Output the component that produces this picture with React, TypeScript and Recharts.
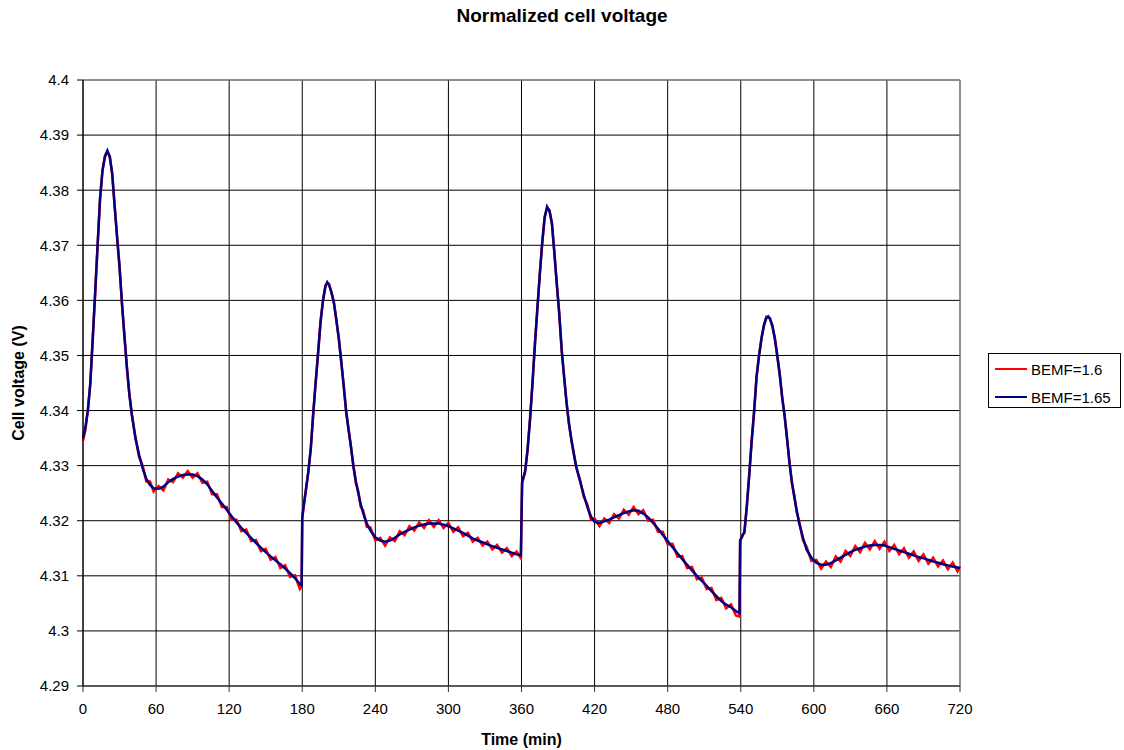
import React from "react";
import {
  LineChart,
  Line,
  XAxis,
  YAxis,
  CartesianGrid,
  ReferenceLine,
} from "recharts";

// time in minutes
const times = [
  0, 2, 4, 6, 8, 10, 12, 14, 16, 18, 20, 22, 24, 26, 28, 30, 32, 34, 36, 38,
  40, 43, 46, 49, 52, 55, 58, 62, 66, 70, 74, 78, 82, 86, 90, 94, 98, 102, 106,
  110, 114, 118, 122, 126, 130, 134, 138, 142, 146, 150, 154, 158, 162, 166,
  170, 174, 178, 179.5,
  180, 181, 183, 185, 187, 189, 191, 193, 195, 197, 199, 200.5, 202, 204, 206,
  208, 210, 212, 214, 216, 218, 220, 222, 224, 226, 228, 230, 233, 236, 240,
  244, 248, 252, 256, 260, 264, 268, 272, 276, 280, 284, 288, 292, 296, 300,
  304, 308, 312, 316, 320, 324, 328, 332, 336, 340, 344, 348, 352, 356, 359.5,
  360, 360.5, 363, 365, 367, 369, 371, 373, 375, 377, 379, 381, 383, 385, 387,
  389, 391, 393, 395, 397, 399, 401, 403, 405, 408, 411, 414, 417, 420, 424,
  428, 432, 436, 440, 444, 448, 452, 456, 460, 464, 468, 472, 476, 480, 484,
  488, 492, 496, 500, 504, 508, 512, 516, 520, 524, 528, 532, 536, 539,
  539.5, 541, 543, 545, 547, 549, 551, 553, 555, 557, 559, 561, 562.5, 564,
  566, 568, 570, 572, 574, 576, 578, 580, 582, 584, 586, 588, 591, 594, 598,
  602, 606, 610, 614, 618, 622, 626, 630, 634, 638, 642, 646, 650, 654, 658,
  662, 666, 670, 674, 678, 682, 686, 690, 694, 698, 702, 706, 710, 714, 718,
  720,
];

// BEMF=1.6 (red, noisy)
const bemf160 = [
  4.3345, 4.3365, 4.3402, 4.3448, 4.3532, 4.3612, 4.3702, 4.3783, 4.3837,
  4.386, 4.387, 4.3862, 4.3828, 4.3772, 4.3713, 4.3662, 4.3593, 4.3537, 4.3478,
  4.3432, 4.3393, 4.3353, 4.3316, 4.33, 4.3271, 4.3271, 4.3253, 4.3263, 4.3255,
  4.3275, 4.327, 4.3286, 4.3278, 4.329, 4.3278, 4.3286, 4.3269, 4.3271,
  4.3248, 4.3248, 4.3225, 4.3225, 4.3202, 4.3202, 4.3181, 4.3184, 4.3163,
  4.3165, 4.3145, 4.3149, 4.3129, 4.3134, 4.3114, 4.3119, 4.3098, 4.3101,
  4.3076, 4.308,
  4.3205, 4.3222, 4.3257, 4.3288, 4.3332, 4.3393, 4.3452, 4.3503, 4.3562,
  4.3598, 4.3627, 4.3631, 4.363, 4.3613, 4.3597, 4.3563, 4.3532, 4.3488,
  4.3447, 4.3398, 4.3367, 4.3333, 4.33, 4.3268, 4.3254, 4.3225, 4.3219, 4.3189,
  4.3188, 4.3164, 4.3169, 4.3155, 4.317, 4.3163, 4.3181, 4.3174, 4.319, 4.3182,
  4.3197, 4.3187, 4.3201, 4.3189, 4.3201, 4.3187, 4.3196, 4.318, 4.3188,
  4.3172, 4.3178, 4.3162, 4.3169, 4.3155, 4.3162, 4.3148, 4.3156, 4.3142,
  4.315, 4.3136, 4.3144, 4.3132,
  4.3205, 4.3268, 4.3291, 4.3328, 4.3385, 4.3448, 4.3521, 4.3583, 4.3648,
  4.3703, 4.3752, 4.3768, 4.3764, 4.3738, 4.3687, 4.3628, 4.3577, 4.3508,
  4.3462, 4.3413, 4.3377, 4.3345, 4.3322, 4.3296, 4.3275, 4.3244, 4.323,
  4.3202, 4.3204, 4.319, 4.3204, 4.3196, 4.3212, 4.3204, 4.322, 4.3211,
  4.3225, 4.3212, 4.3219, 4.32, 4.3202, 4.318, 4.318, 4.3157, 4.3158,
  4.3135, 4.3136, 4.3114, 4.3116, 4.3094, 4.3097, 4.3076, 4.3078, 4.3056,
  4.306, 4.3041, 4.3048, 4.3028, 4.3026,
  4.316, 4.3174, 4.3178, 4.3228, 4.3283, 4.3347, 4.3398, 4.3463, 4.3498,
  4.3532, 4.3553, 4.357, 4.3569, 4.3568, 4.3552, 4.3532, 4.3498, 4.3467,
  4.3423, 4.3392, 4.3348, 4.3307, 4.3268, 4.3246, 4.3215, 4.3199, 4.3165,
  4.3153, 4.3127, 4.3129, 4.3113, 4.3126, 4.3116, 4.3135, 4.3126, 4.3145,
  4.3136, 4.3154, 4.3143, 4.316, 4.3148, 4.3163, 4.3149, 4.3162, 4.3145,
  4.3156, 4.3139, 4.315, 4.3133, 4.3144, 4.3127, 4.3139, 4.3122, 4.3133,
  4.3117, 4.3128, 4.3112, 4.3124, 4.3108, 4.3117,
];

// BEMF=1.65 (blue, smooth)
const bemf165 = [
  4.335, 4.337, 4.34, 4.345, 4.353, 4.3615, 4.37, 4.3785, 4.3835, 4.3862,
  4.3872, 4.386, 4.383, 4.377, 4.3715, 4.366, 4.3595, 4.3535, 4.348, 4.343,
  4.3395, 4.335, 4.332, 4.3295, 4.3276, 4.3265, 4.3259, 4.3258, 4.3262, 4.327,
  4.3276, 4.328, 4.3283, 4.3284, 4.3284, 4.3281, 4.3275, 4.3266, 4.3254,
  4.3242, 4.3231, 4.322, 4.3208, 4.3197, 4.3187, 4.3178, 4.3169, 4.316,
  4.3151, 4.3143, 4.3135, 4.3128, 4.3121, 4.3113, 4.3105, 4.3096, 4.3085,
  4.3083,
  4.3205, 4.3225, 4.3255, 4.329, 4.333, 4.3395, 4.345, 4.3505, 4.356, 4.36,
  4.3625, 4.3633, 4.3628, 4.3615, 4.3595, 4.3565, 4.353, 4.349, 4.3445, 4.34,
  4.3365, 4.3335, 4.3298, 4.3272, 4.325, 4.323, 4.3214, 4.3195, 4.3182, 4.317,
  4.3164, 4.3162, 4.3164, 4.3169, 4.3175, 4.318, 4.3184, 4.3188, 4.3191,
  4.3193, 4.3195, 4.3195, 4.3195, 4.3193, 4.319, 4.3186, 4.3182, 4.3178,
  4.3173, 4.3168, 4.3164, 4.3161, 4.3157, 4.3154, 4.3151, 4.3148, 4.3145,
  4.3142, 4.3139, 4.3137,
  4.3205, 4.327, 4.3289, 4.333, 4.3383, 4.345, 4.3519, 4.3585, 4.3646, 4.3705,
  4.375, 4.377, 4.3762, 4.374, 4.3685, 4.363, 4.3575, 4.351, 4.346, 4.3415,
  4.3375, 4.3347, 4.332, 4.3298, 4.3272, 4.3248, 4.3225, 4.3208, 4.3198,
  4.3196, 4.3199, 4.3202, 4.3206, 4.321, 4.3214, 4.3217, 4.3219, 4.3218,
  4.3213, 4.3206, 4.3196, 4.3186, 4.3174, 4.3163, 4.3152, 4.3141, 4.313,
  4.312, 4.311, 4.31, 4.3091, 4.3082, 4.3072, 4.3063, 4.3054, 4.3048, 4.3043,
  4.3036, 4.3032,
  4.3165, 4.317, 4.318, 4.3226, 4.3285, 4.3345, 4.34, 4.3461, 4.35, 4.353,
  4.3555, 4.3568, 4.3571, 4.3566, 4.3554, 4.353, 4.35, 4.3465, 4.3425, 4.339,
  4.335, 4.3305, 4.327, 4.3242, 4.3218, 4.3195, 4.317, 4.3148, 4.3133, 4.3124,
  4.312, 4.312, 4.3123, 4.3128, 4.3133, 4.3138, 4.3143, 4.3147, 4.315, 4.3153,
  4.3155, 4.3156, 4.3156, 4.3155, 4.3152, 4.3149, 4.3146, 4.3143, 4.314,
  4.3137, 4.3134, 4.3132, 4.3129, 4.3126, 4.3124, 4.3121, 4.3119, 4.3117,
  4.3115, 4.3114,
];

const xTicks = [0, 60, 120, 180, 240, 300, 360, 420, 480, 540, 600, 660, 720];
const yTicks = [
  4.29, 4.3, 4.31, 4.32, 4.33, 4.34, 4.35, 4.36, 4.37, 4.38, 4.39, 4.4,
];

const seriesNames = ["BEMF=1.6", "BEMF=1.65"];
const seriesColors = ["#ff0000", "#000080"];

const rows = times.map((t, i) => ({ t, a: bemf160[i], b: bemf165[i] }));

const FONT = '"Liberation Sans", Arial, sans-serif';

export default function App() {
  return (
    <div
      style={{
        position: "absolute",
        left: 0,
        top: 0,
        width: 1124,
        height: 750,
        background: "#fff",
        fontFamily: FONT,
      }}
    >
      <div
        style={{
          position: "absolute",
          left: 0,
          width: 1124,
          top: 5,
          textAlign: "center",
          fontSize: 19,
          fontWeight: "bold",
          color: "#000",
        }}
      >
        Normalized cell voltage
      </div>

      <LineChart
        width={1124}
        height={750}
        data={rows}
        margin={{ top: 80, right: 164, bottom: 0, left: 0 }}
        style={{ fontFamily: FONT }}
      >
        <CartesianGrid stroke="#000" strokeWidth={1} />
        <XAxis
          dataKey="t"
          type="number"
          domain={[0, 720]}
          ticks={xTicks}
          interval={0}
          height={64}
          tickSize={6}
          tickMargin={11}
          axisLine={{ stroke: "#333" }}
          tickLine={{ stroke: "#333" }}
          tick={{ fill: "#000", fontSize: 15 }}
          label={{
            content: ({ viewBox }: any) => (
              <text
                x={viewBox.x + viewBox.width / 2}
                y={viewBox.y + 59}
                textAnchor="middle"
                fontSize={16}
                fontWeight="bold"
                fill="#000"
              >
                Time (min)
              </text>
            ),
          }}
        />
        <YAxis
          type="number"
          domain={[4.29, 4.4]}
          ticks={yTicks}
          interval={0}
          allowDataOverflow
          width={83}
          tickSize={6}
          tickMargin={8}
          axisLine={{ stroke: "#000" }}
          tickLine={{ stroke: "#000" }}
          tick={{ fill: "#000", fontSize: 15 }}
          tickFormatter={(v: number) => String(parseFloat(v.toFixed(2)))}
          label={{
            content: ({ viewBox }: any) => {
              const cx = 18;
              const cy = viewBox.y + viewBox.height / 2;
              return (
                <text
                  x={cx}
                  y={cy}
                  transform={`rotate(-90 ${cx} ${cy})`}
                  textAnchor="middle"
                  dominantBaseline="central"
                  fontSize={16}
                  fontWeight="bold"
                  fill="#000"
                >
                  Cell voltage (V)
                </text>
              );
            },
          }}
        />
        <ReferenceLine y={4.4} stroke="#a0a0a0" strokeWidth={1} />
        <ReferenceLine x={720} stroke="#a0a0a0" strokeWidth={1} />
        <Line
          type="linear"
          dataKey="a"
          name={seriesNames[0]}
          stroke={seriesColors[0]}
          strokeWidth={2.5}
          dot={false}
          isAnimationActive={false}
        />
        <Line
          type="linear"
          dataKey="b"
          name={seriesNames[1]}
          stroke={seriesColors[1]}
          strokeWidth={2.5}
          dot={false}
          isAnimationActive={false}
        />
      </LineChart>

      {/* legend box */}
      <div
        style={{
          position: "absolute",
          left: 988,
          top: 353,
          width: 133,
          height: 55,
          border: "1px solid #000",
          boxSizing: "border-box",
          background: "#fff",
          fontSize: 15,
          color: "#000",
        }}
      >
        {seriesNames.map((name, i) => (
          <div
            key={name}
            style={{
              position: "absolute",
              left: 6,
              top: 6 + i * 28,
              height: 18,
              display: "flex",
              alignItems: "center",
              whiteSpace: "nowrap",
            }}
          >
            <span
              style={{
                display: "inline-block",
                width: 32,
                height: 2,
                background: seriesColors[i],
                marginRight: 4,
              }}
            />
            {name}
          </div>
        ))}
      </div>
    </div>
  );
}
